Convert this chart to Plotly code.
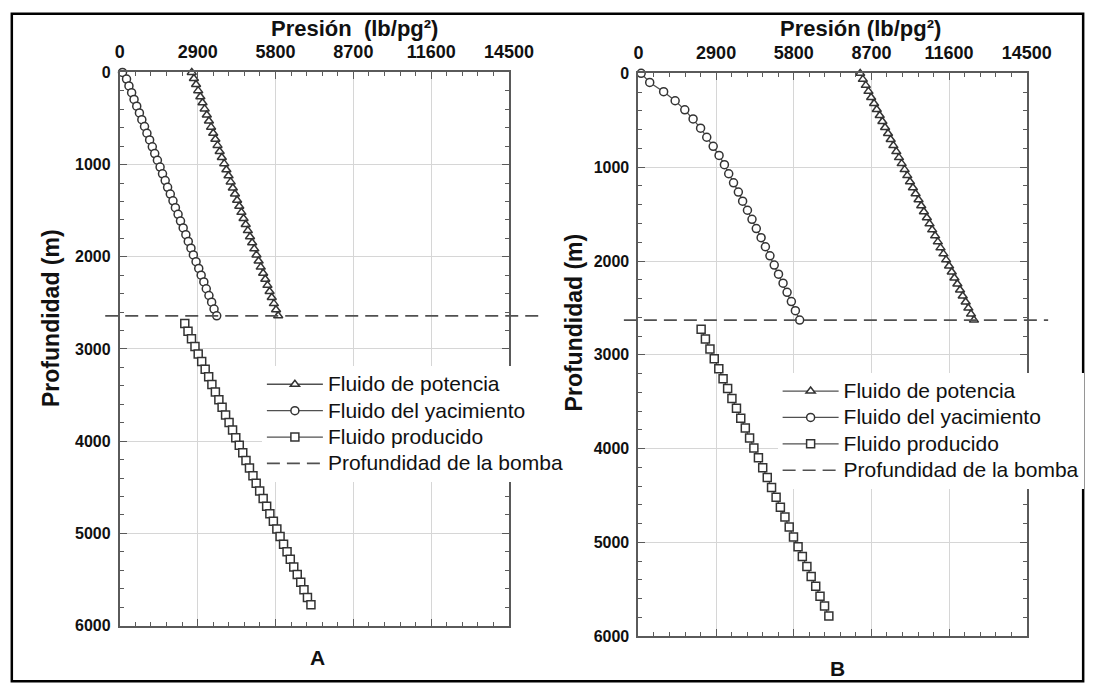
import plotly.graph_objects as go

# ---------------- data ----------------
PRESSURE_TICKS = [0, 2900, 5800, 8700, 11600, 14500]
DEPTH_TICKS = [0, 1000, 2000, 3000, 4000, 5000, 6000]

SERIES_NAMES = ["Fluido de potencia", "Fluido del yacimiento", "Fluido producido",
                "Profundidad de la bomba"]

PUMP_DEPTH_A = 2640
PUMP_DEPTH_B = 2630

# Panel A
depth_pot_a = [0, 66, 132, 198, 264, 330, 396, 462, 528, 594, 660, 726, 792, 858, 924, 990,
               1056, 1122, 1188, 1254, 1320, 1386, 1452, 1518, 1584, 1650, 1716, 1782, 1848,
               1914, 1980, 2046, 2112, 2178, 2244, 2310, 2376, 2442, 2508, 2574, 2640]
pres_pot_a = [2680, 2760, 2840, 2920, 3000, 3080, 3160, 3240, 3320, 3400, 3480, 3560, 3640,
              3720, 3800, 3890, 3970, 4050, 4130, 4210, 4290, 4370, 4450, 4530, 4610, 4690,
              4770, 4850, 4930, 5010, 5090, 5170, 5250, 5340, 5420, 5500, 5580, 5660, 5740,
              5820, 5900]

depth_yac_a = [0, 73, 147, 220, 293, 367, 440, 513, 587, 660, 733, 807, 880, 953, 1027, 1100,
               1173, 1247, 1320, 1393, 1467, 1540, 1613, 1687, 1760, 1833, 1907, 1980, 2053,
               2127, 2200, 2273, 2347, 2420, 2493, 2567, 2640]
pres_yac_a = [100, 250, 340, 440, 530, 630, 730, 820, 920, 1010, 1110, 1210, 1300, 1400, 1500,
              1590, 1690, 1780, 1880, 1980, 2070, 2170, 2260, 2360, 2460, 2550, 2650, 2740,
              2840, 2940, 3030, 3130, 3220, 3320, 3420, 3510, 3610]

depth_pro_a = [2725, 2807, 2890, 2972, 3055, 3137, 3220, 3302, 3385, 3467, 3550, 3632, 3715,
               3797, 3880, 3962, 4045, 4127, 4210, 4292, 4375, 4457, 4540, 4622, 4705, 4787,
               4870, 4952, 5035, 5117, 5200, 5282, 5365, 5447, 5530, 5612, 5695, 5775]
pres_pro_a = [2420, 2540, 2670, 2800, 2920, 3050, 3180, 3310, 3430, 3560, 3690, 3810, 3940,
              4070, 4200, 4320, 4450, 4580, 4700, 4830, 4960, 5080, 5210, 5340, 5470, 5590,
              5720, 5850, 5970, 6100, 6230, 6350, 6480, 6610, 6740, 6860, 6990, 7120]

# Panel B
depth_pot_b = [0, 64, 128, 192, 257, 321, 385, 449, 513, 577, 641, 705, 770, 834, 898, 962,
               1026, 1090, 1155, 1219, 1283, 1347, 1411, 1475, 1539, 1604, 1668, 1732, 1796,
               1860, 1924, 1988, 2053, 2117, 2181, 2245, 2309, 2373, 2437, 2502, 2566, 2630]
pres_pot_b = [8280, 8380, 8490, 8590, 8690, 8800, 8900, 9010, 9110, 9210, 9320, 9420, 9520,
              9630, 9730, 9830, 9940, 10040, 10140, 10250, 10350, 10460, 10560, 10660, 10770,
              10870, 10970, 11080, 11180, 11280, 11390, 11490, 11600, 11700, 11800, 11910,
              12010, 12110, 12220, 12320, 12420, 12530]

depth_yac_b = [0, 97, 195, 292, 389, 486, 584, 681, 778, 875, 973, 1070, 1167, 1265, 1362,
               1459, 1556, 1654, 1751, 1848, 1945, 2043, 2140, 2237, 2334, 2432, 2529, 2630]
pres_yac_b = [100, 420, 940, 1370, 1730, 2040, 2320, 2550, 2790, 3010, 3210, 3370, 3550, 3730,
              3890, 4070, 4240, 4400, 4580, 4740, 4910, 5070, 5230, 5400, 5550, 5710, 5860, 6020]

depth_pro_b = [2727, 2832, 2938, 3043, 3149, 3254, 3359, 3465, 3570, 3676, 3781, 3887, 3992,
               4097, 4203, 4308, 4414, 4519, 4624, 4730, 4835, 4941, 5046, 5151, 5257, 5362,
               5468, 5573, 5678, 5783]
pres_pro_b = [2340, 2500, 2670, 2830, 3000, 3160, 3330, 3490, 3660, 3820, 3990, 4150, 4310,
              4480, 4640, 4810, 4970, 5140, 5300, 5470, 5630, 5790, 5960, 6120, 6290, 6450,
              6620, 6780, 6950, 7110]

# ---------------- styling ----------------
W, H = 1114, 696
FONT = "Liberation Sans, Arial, sans-serif"
AXIS_COLOR = "#5a5a5a"
GRID_COLOR = "#d6d6d6"
LINE_COLOR = "#505050"
MARKER_EDGE = "#333333"
LEGEND_TEXT_PX = 21


def fx(px):
    return px / W


def fy(py):
    return 1 - py / H


PANELS = {
    "A": dict(xaxis="x", yaxis="y", legend="legend", left=118, right=518, top=66, bottom=633,
              pump=PUMP_DEPTH_A, dash_from=103, dash_to=548),
    "B": dict(xaxis="x2", yaxis="y2", legend="legend2", left=651, right=1050, top=67, bottom=644,
              pump=PUMP_DEPTH_B, dash_from=636, dash_to=1072),
}

DATA = {
    "A": [(pres_pot_a, depth_pot_a), (pres_yac_a, depth_yac_a), (pres_pro_a, depth_pro_a)],
    "B": [(pres_pot_b, depth_pot_b), (pres_yac_b, depth_yac_b), (pres_pro_b, depth_pro_b)],
}

SYMBOLS = ["triangle-up", "circle", "square"]
SIZES = [8, 8, 8]


def legend_label(name):
    # legend rows keep a compact pitch while the label text is drawn a bit larger
    return f'<span style="font-size:{LEGEND_TEXT_PX}px">{name}</span>'


fig = go.Figure()

for key, panel in PANELS.items():
    for (xs, ys), name, sym, size in zip(DATA[key], SERIES_NAMES, SYMBOLS, SIZES):
        fig.add_trace(go.Scatter(
            x=xs, y=ys, name=legend_label(name), mode="lines+markers",
            xaxis=panel["xaxis"], yaxis=panel["yaxis"], legend=panel["legend"],
            line=dict(color=LINE_COLOR, width=1.3),
            marker=dict(symbol=sym, size=size, color="white",
                        line=dict(color=MARKER_EDGE, width=1.5)),
            cliponaxis=False,
        ))
    # legend entry for the pump depth line
    fig.add_trace(go.Scatter(
        x=[None], y=[None], name=legend_label(SERIES_NAMES[3]), mode="lines",
        xaxis=panel["xaxis"], yaxis=panel["yaxis"], legend=panel["legend"],
        line=dict(color=LINE_COLOR, width=1.7, dash="13px,7px"),
    ))
    # pump depth line, running a little past both sides of the frame
    fig.add_shape(type="line", xref="paper", yref=panel["yaxis"],
                  x0=fx(panel["dash_from"]), x1=fx(panel["dash_to"]),
                  y0=panel["pump"], y1=panel["pump"],
                  line=dict(color=LINE_COLOR, width=1.7, dash="13px,7px"), layer="above")


def x_axis(panel, anchor):
    return dict(
        domain=[fx(panel["left"]), fx(panel["right"])], anchor=anchor, side="top",
        range=[0, 14500], tickvals=PRESSURE_TICKS, ticktext=[str(v) for v in PRESSURE_TICKS],
        showgrid=True, gridcolor=GRID_COLOR, gridwidth=1, zeroline=False,
        showline=True, linecolor=AXIS_COLOR, linewidth=2, mirror="ticks",
        ticks="inside", ticklen=7, tickwidth=1.2, tickcolor=AXIS_COLOR,
        minor=dict(ticks="inside", dtick=580, ticklen=4, tickwidth=1.2, tickcolor=AXIS_COLOR,
                   showgrid=False),
        tickfont=dict(family=FONT, size=18, color="#111111", weight="bold"),
        ticklabelstandoff=5,
    )


def y_axis(panel, anchor):
    return dict(
        domain=[fy(panel["bottom"]), fy(panel["top"])], anchor=anchor,
        range=[6000, 0], tickvals=DEPTH_TICKS, ticktext=[str(v) for v in DEPTH_TICKS],
        showgrid=True, gridcolor=GRID_COLOR, gridwidth=1, zeroline=False,
        showline=True, linecolor=AXIS_COLOR, linewidth=2, mirror="ticks",
        ticks="inside", ticklen=7, tickwidth=1.2, tickcolor=AXIS_COLOR,
        minor=dict(ticks="inside", dtick=200, ticklen=4, tickwidth=1.2, tickcolor=AXIS_COLOR,
                   showgrid=False),
        tickfont=dict(family=FONT, size=16, color="#111111", weight="bold"),
        ticklabelstandoff=4,
    )


def legend_box(left, top):
    return dict(
        x=fx(left), y=fy(top), xanchor="left", yanchor="top",
        bgcolor="white", borderwidth=0, itemwidth=56, tracegroupgap=0,
        traceorder="normal", font=dict(family=FONT, size=18, color="#111111"),
        itemclick=False, itemdoubleclick=False,
    )


annotations = []
title_font = dict(family=FONT, size=22, color="#111111", weight="bold")
for cx, cy, text in [(359, 21, "Presión  (lb/pg²)"), (879, 21, "Presión (lb/pg²)")]:
    annotations.append(dict(x=fx(cx), y=fy(cy), xref="paper", yref="paper", text=text,
                            showarrow=False, xanchor="center", yanchor="middle",
                            font=title_font))
for cx, cy in [(47, 318), (585, 322)]:
    annotations.append(dict(x=fx(cx), y=fy(cy), xref="paper", yref="paper",
                            text="Profundidad (m)", textangle=-90, showarrow=False,
                            xanchor="center", yanchor="middle",
                            font=dict(family=FONT, size=23, color="#111111", weight="bold")))
for cx, cy, text in [(321, 666, "A"), (856, 677, "B")]:
    annotations.append(dict(x=fx(cx), y=fy(cy), xref="paper", yref="paper", text=text,
                            showarrow=False, xanchor="center", yanchor="middle",
                            font=dict(family=FONT, size=21, color="#111111", weight="bold")))

fig.add_shape(type="rect", xref="paper", yref="paper",
              x0=fx(7), x1=fx(1108), y0=fy(690), y1=fy(6),
              line=dict(color="black", width=2.5), layer="above")

fig.update_layout(
    width=W, height=H, margin=dict(l=0, r=0, t=0, b=0),
    paper_bgcolor="white", plot_bgcolor="white",
    xaxis=x_axis(PANELS["A"], "y"), yaxis=y_axis(PANELS["A"], "x"),
    xaxis2=x_axis(PANELS["B"], "y2"), yaxis2=y_axis(PANELS["B"], "x2"),
    legend=legend_box(264, 367), legend2=legend_box(794, 374),
    annotations=annotations, showlegend=True,
)

fig.write_html("out.html")
